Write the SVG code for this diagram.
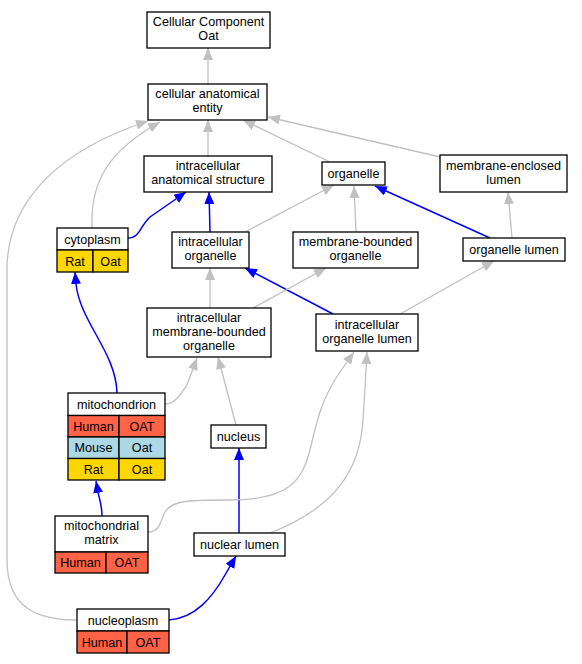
<svg xmlns="http://www.w3.org/2000/svg" width="582" height="664" viewBox="0 0 582 664">
<defs>
<marker id="ag" markerUnits="userSpaceOnUse" markerWidth="12" markerHeight="10" refX="12" refY="5" orient="auto"><path d="M0,0 L12,5 L0,10 z" fill="#c0c0c0"/></marker>
<marker id="ab" markerUnits="userSpaceOnUse" markerWidth="12" markerHeight="10" refX="12" refY="5" orient="auto"><path d="M0,0 L12,5 L0,10 z" fill="#0000ff"/></marker>
<style>
text{font-family:"Liberation Sans",Arial,sans-serif;font-size:12.6px;fill:#000;text-anchor:middle}
.n rect{fill:#fff;stroke:#000;stroke-width:1.3}
rect.red{fill:#ff6347}
rect.blu{fill:#add8e6}
rect.yel{fill:#ffd700}
.g{fill:none;stroke:#c0c0c0;stroke-width:1.3;marker-end:url(#ag)}
.b{fill:none;stroke:#0000ff;stroke-width:1.5;marker-end:url(#ab)}
</style>
</defs>
<rect width="582" height="664" fill="#fff"/>
<g id="connectors">
<path class="g" d="M208,84 L208,48"/>
<path class="g" d="M208,156 L208,120"/>
<path class="g" d="M92,228 C90,180 110,150 160,122"/>
<path class="g" d="M77,620 C40,620 7,610 7,560 L7,270 C7,200 60,150 148,121"/>
<path class="g" d="M330,162 L243,120"/>
<path class="g" d="M440,157 L268,117"/>
<path class="b" d="M128,238 C140,238 140,226 150,217 L186,192"/>
<path class="b" d="M210,232 L209,192"/>
<path class="g" d="M245,232 L334,185"/>
<path class="g" d="M356,232 L354,186"/>
<path class="b" d="M490,238 L375,186"/>
<path class="g" d="M512,238 L508,192"/>
<path class="b" d="M333,314 L245,268"/>
<path class="g" d="M253,308 L326,268"/>
<path class="g" d="M400,314 L494,261"/>
<path class="g" d="M210,308 L210,268"/>
<path class="b" d="M117,393 C116,352 80,322 76,284 L75,272"/>
<path class="g" d="M165,404 C175,404 180,395 187,385 L197,358"/>
<path class="g" d="M236,425 L218,357"/>
<path class="b" d="M239,533 L239,448"/>
<path class="b" d="M102,516 C102,505 99,498 98,492 L96,481"/>
<path class="g" d="M148,532 C160,532 160,522 165,512 C172,500 190,500 230,500 C290,500 302,480 310,450 C317,420 322,398 340,372 L354,352"/>
<path class="g" d="M270,533 C335,508 360,470 363,420 C365,390 366,370 367,352"/>
<path class="b" d="M169,620 C195,618 212,598 225,575 L236,556"/>
</g>
<g id="cc" class="n"><rect x="147" y="12" width="123" height="36"/><text x="208.5" y="26">Cellular Component</text><text x="208.5" y="40">Oat</text></g>
<g id="cae" class="n"><rect x="148" y="84" width="119" height="36"/><text x="207.5" y="98">cellular anatomical</text><text x="207.5" y="112">entity</text></g>
<g id="ias" class="n"><rect x="144" y="156" width="128" height="36"/><text x="208" y="170">intracellular</text><text x="208" y="184">anatomical structure</text></g>
<g id="organelle" class="n"><rect x="322" y="162" width="63" height="23"/><text x="353.5" y="177.5">organelle</text></g>
<g id="mel" class="n"><rect x="440" y="155" width="127" height="37"/><text x="503.5" y="169.5">membrane-enclosed</text><text x="503.5" y="183.5">lumen</text></g>
<g id="mbo" class="n"><rect x="293" y="232" width="125" height="36"/><text x="355.5" y="246">membrane-bounded</text><text x="355.5" y="260">organelle</text></g>
<g id="ol" class="n"><rect x="463" y="238" width="102" height="23"/><text x="514" y="253.5">organelle lumen</text></g>
<g id="iol" class="n"><rect x="316" y="314" width="102" height="37"/><text x="367" y="328.5">intracellular</text><text x="367" y="342.5">organelle lumen</text></g>
<g id="io" class="n"><rect x="172" y="232" width="77" height="36"/><text x="210.5" y="246">intracellular</text><text x="210.5" y="260">organelle</text></g>
<g id="imbo" class="n"><rect x="147" y="308" width="124" height="49"/><text x="209" y="322">intracellular</text><text x="209" y="336">membrane-bounded</text><text x="209" y="350">organelle</text></g>
<g id="cytoplasm" class="n"><rect x="57" y="228" width="71" height="22"/><rect class="yel" x="57" y="250" width="36" height="22"/><rect class="yel" x="93" y="250" width="35" height="22"/><text x="92.5" y="243.5">cytoplasm</text><text x="75" y="265.5">Rat</text><text x="110.5" y="265.5">Oat</text></g>
<g id="mito" class="n"><rect x="68" y="393" width="97" height="22.5"/><rect class="red" x="68" y="415.5" width="51" height="21.5"/><rect class="red" x="119" y="415.5" width="46" height="21.5"/><rect class="blu" x="68" y="437" width="51" height="21.5"/><rect class="blu" x="119" y="437" width="46" height="21.5"/><rect class="yel" x="68" y="458.5" width="51" height="21.5"/><rect class="yel" x="119" y="458.5" width="46" height="21.5"/><text x="116.5" y="408.5">mitochondrion</text><text x="93.5" y="430.5">Human</text><text x="142" y="430.5">OAT</text><text x="93.5" y="452">Mouse</text><text x="142" y="452">Oat</text><text x="93.5" y="473.5">Rat</text><text x="142" y="473.5">Oat</text></g>
<g id="nucleus" class="n"><rect x="211" y="425" width="55" height="23"/><text x="238.5" y="440.5">nucleus</text></g>
<g id="mm" class="n"><rect x="55" y="516" width="93" height="36"/><rect class="red" x="55" y="552" width="51" height="21"/><rect class="red" x="106" y="552" width="42" height="21"/><text x="101.5" y="530">mitochondrial</text><text x="101.5" y="544">matrix</text><text x="80.5" y="566.5">Human</text><text x="127" y="566.5">OAT</text></g>
<g id="nl" class="n"><rect x="194" y="533" width="91" height="23"/><text x="239.5" y="548.5">nuclear lumen</text></g>
<g id="nucleoplasm" class="n"><rect x="77" y="609" width="92" height="22"/><rect class="red" x="77" y="631" width="50" height="22"/><rect class="red" x="127" y="631" width="42" height="22"/><text x="123" y="624.5">nucleoplasm</text><text x="102" y="646.5">Human</text><text x="148" y="646.5">OAT</text></g>
</svg>
